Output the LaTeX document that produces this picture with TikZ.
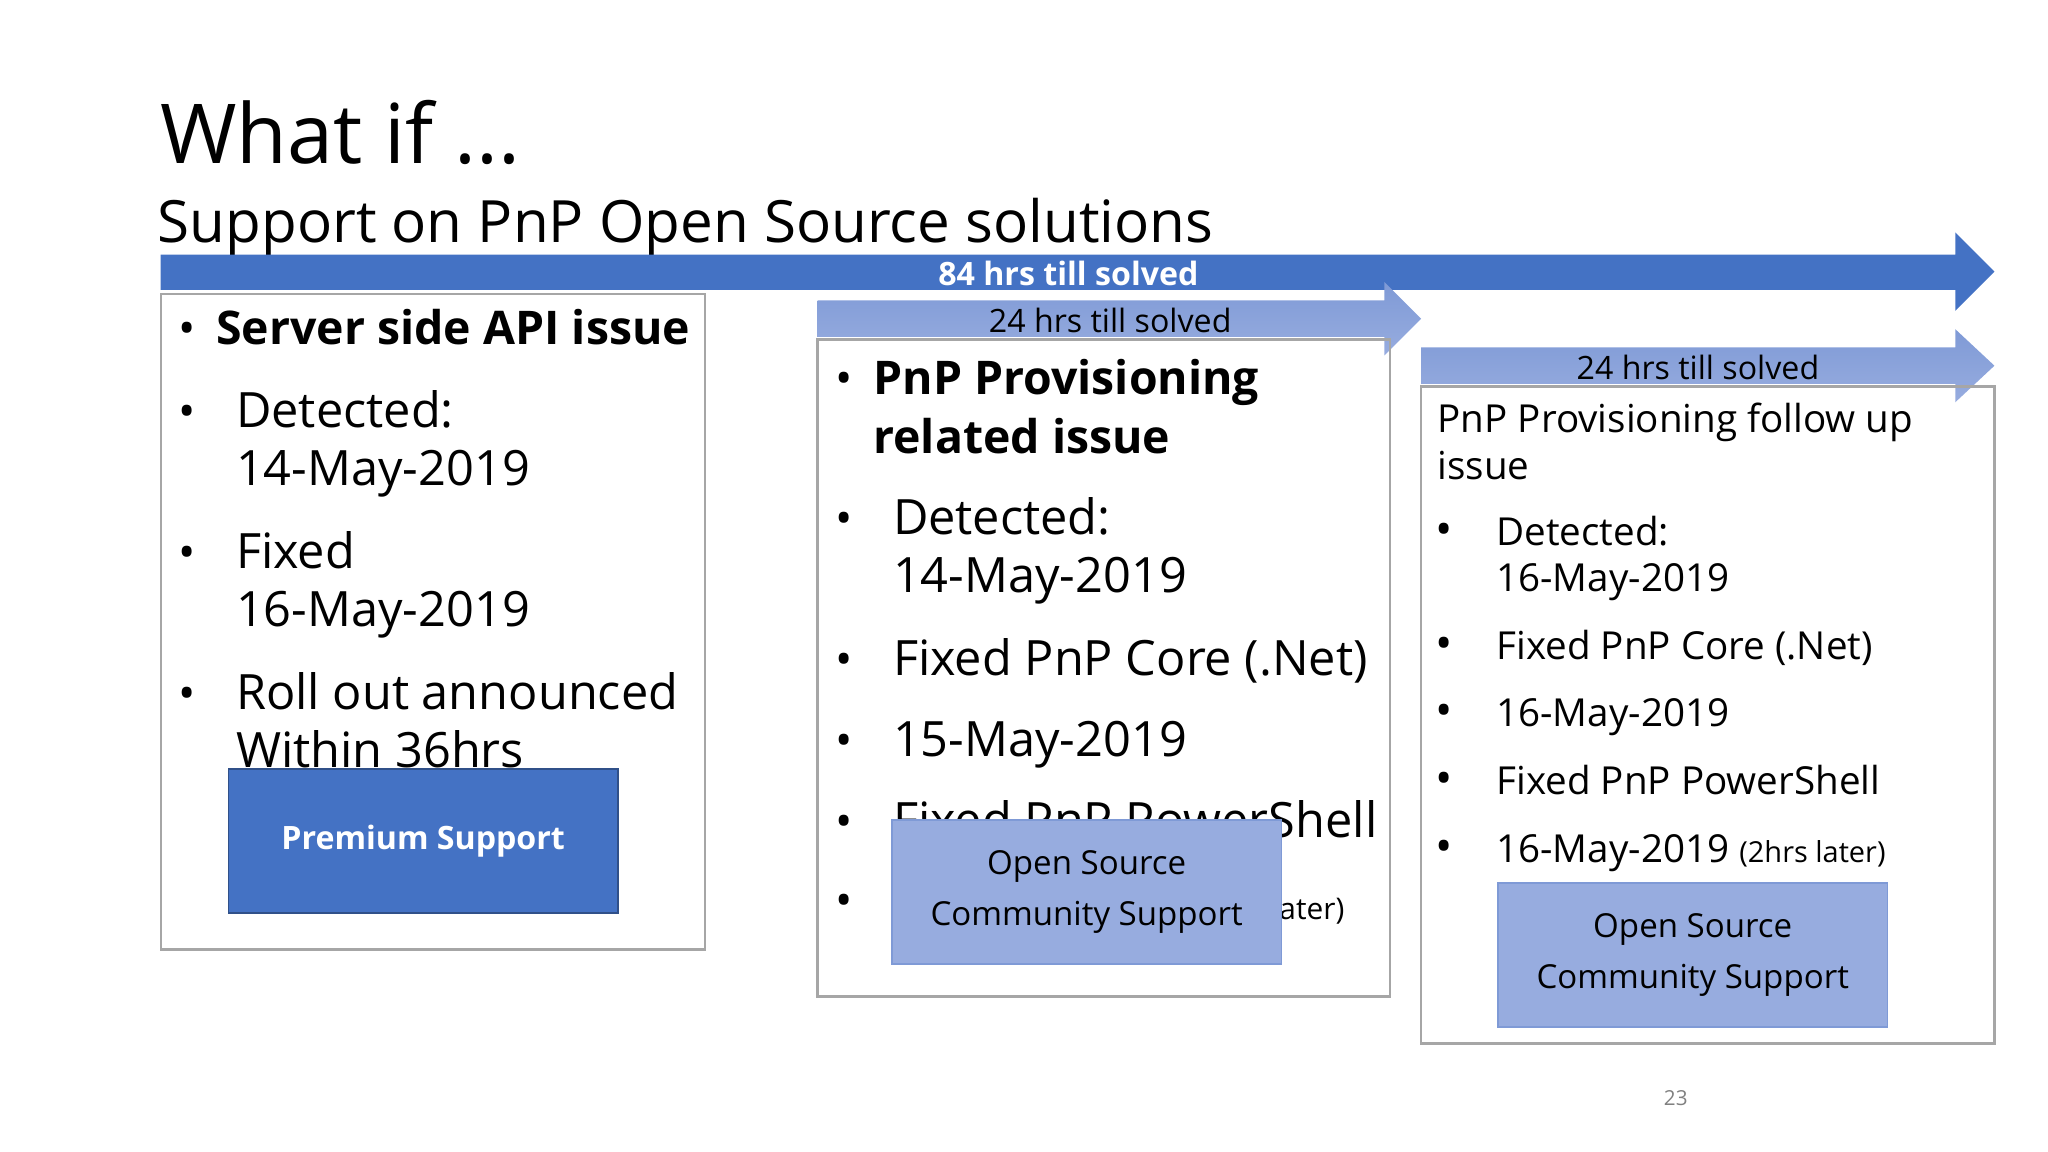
\documentclass[tikz,border=0pt]{standalone}
\usepackage{fontspec}
\setmainfont{Open Sans}
\begin{document}
\begin{tikzpicture}[x=0.01cm,y=-0.01cm,
  frame/.style={draw=gray!70,line width=0.5pt},
  body/.style={anchor=base west,font=\fontsize{10.6}{13}\selectfont,inner sep=0},
  bodyb/.style={anchor=base west,font=\fontsize{10.1}{13}\selectfont\bfseries,inner sep=0},
  small/.style={anchor=base west,font=\fontsize{8.4}{11}\selectfont,inner sep=0},
  bul/.style={anchor=base,font=\fontsize{10}{13}\selectfont,inner sep=0},
  lab/.style={font=\fontsize{7}{9}\selectfont},
  osbox/.style={draw=lblue2,fill=lblue,minimum width=2.98cm,minimum height=1.1cm,align=center,font=\fontsize{7.2}{9}\selectfont}]
\definecolor{dblue}{HTML}{4472C4}
\definecolor{lblue}{HTML}{97ACDF}
\definecolor{lblue2}{HTML}{7F9AD6}
\useasboundingbox (0,0) rectangle (1568,882);
% title
\node[anchor=base west,inner sep=0,font=\fontsize{18}{22}\selectfont] (t1) at (122,125) {What if ...};
\node[anchor=base west,inner sep=0,font=\fontsize{12.7}{16}\selectfont] (t2) at (120,186) {Support on PnP Open Source solutions};
% arrows
\fill[dblue] (123,195) -- (1497,195) -- (1497,178) -- (1527,208) -- (1497,238) -- (1497,222) -- (123,222) -- cycle;
\node[white,font=\fontsize{7}{9}\selectfont\bfseries] (a1) at (818,209) {84 hrs till solved};
\shade[top color=lblue2,bottom color=lblue] (626,230) -- (1060,230) -- (1060,216) -- (1088,244) -- (1060,272) -- (1060,258) -- (626,258) -- cycle;
\node[lab] (a2) at (850,245) {24 hrs till solved};
\shade[top color=lblue2,bottom color=lblue] (1088,266) -- (1497,266) -- (1497,252) -- (1527,280) -- (1497,308) -- (1497,294) -- (1088,294) -- cycle;
\node[lab] (a3) at (1300,281) {24 hrs till solved};
% frames
\draw[frame] (123,225) rectangle (540,727);
\draw[frame] (626,260) rectangle (1064,763);
\draw[frame] (1088,296) rectangle (1527,799);
% box1
\node[bul] at (143,264) {•}; \node[bodyb] at (165,264) {Server side API issue};
\node[bul] at (143,327) {•}; \node[body] at (180,327) {Detected:}; \node[body] at (180,372) {14-May-2019};
\node[bul] at (143,435) {•}; \node[body] at (180,435) {Fixed}; \node[body] at (180,480) {16-May-2019};
\node[bul] at (143,543) {•}; \node[body] at (180,543) {Roll out announced}; \node[body] at (180,588) {Within 36hrs};
\node[draw=dblue!70!black,fill=dblue,minimum width=2.98cm,minimum height=1.1cm,text=white,font=\fontsize{7}{9}\selectfont\bfseries] (ps) at (324,644) {Premium Support};
% box2
\node[bul] at (646,302) {•}; \node[bodyb] at (668,302) {PnP Provisioning}; \node[bodyb] at (668,347) {related issue};
\node[bul] at (646,409) {•}; \node[body] at (683,409) {Detected:}; \node[body] at (683,454) {14-May-2019};
\node[bul] at (646,517) {•}; \node[body] at (683,517) {Fixed PnP Core (.Net)};
\node[bul] at (646,579) {•}; \node[body] at (683,579) {15-May-2019};
\node[bul] at (646,641) {•}; \node[body] at (683,641) {Fixed PnP PowerShell};
\node[bul] at (646,702) {•}; \node[anchor=base east,inner sep=0,font=\fontsize{6.5}{8}\selectfont] at (1030,704) {(2hrs later)};
\node[osbox] (os1) at (832,683) {Open Source\\[2pt]Community Support};
% box3
\node[small] at (1100,331) {PnP Provisioning follow up}; \node[small] at (1100,367) {issue};
\node[bul] at (1106,418) {•}; \node[small] at (1145,418) {Detected:}; \node[small] at (1145,453) {16-May-2019};
\node[bul] at (1106,505) {•}; \node[small] at (1145,505) {Fixed PnP Core (.Net)};
\node[bul] at (1106,556) {•}; \node[small] at (1145,556) {16-May-2019};
\node[bul] at (1106,608) {•}; \node[small] at (1145,608) {Fixed PnP PowerShell};
\node[bul] at (1106,660) {•}; \node[small] at (1145,660) {16-May-2019 {\fontsize{6.3}{8}\selectfont (2hrs later)}};
\node[osbox] (os2) at (1296,731) {Open Source\\[2pt]Community Support};
\node[gray,font=\fontsize{4.5}{6}\selectfont] (pg) at (1283,841) {23};
\end{tikzpicture}
\end{document}
